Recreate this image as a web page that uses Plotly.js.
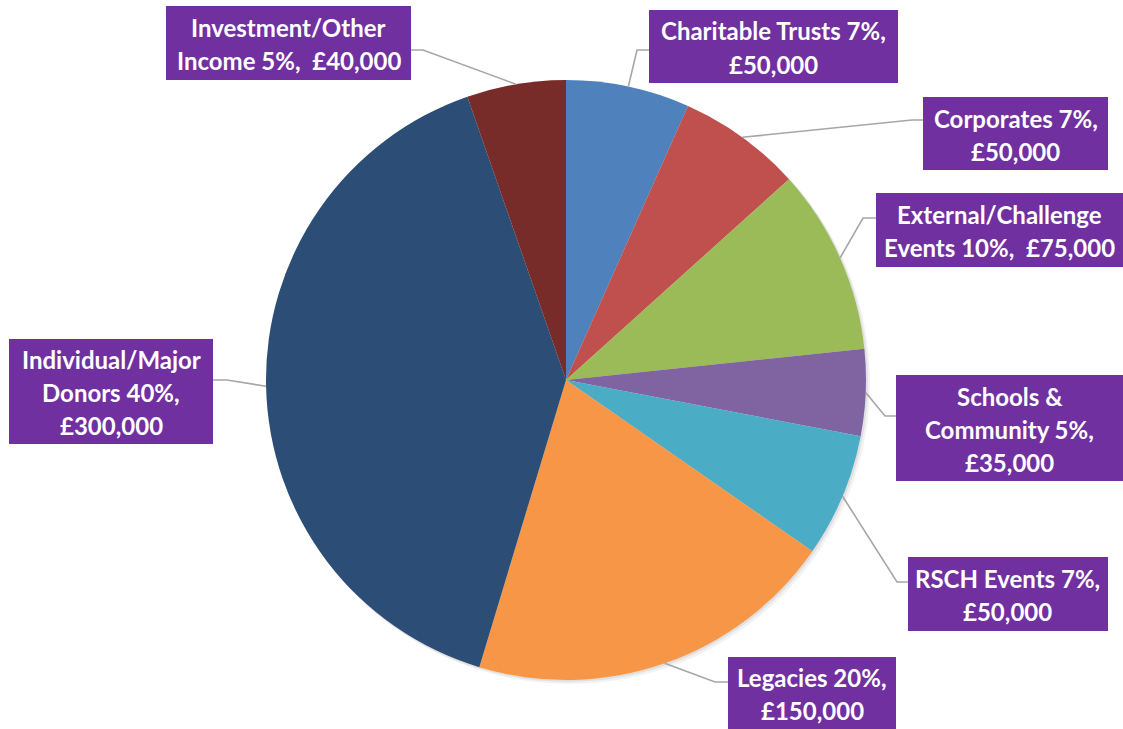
<!DOCTYPE html>
<html>
<head>
<meta charset="utf-8">
<script src="https://cdn.plot.ly/plotly-3.0.1.min.js"></script>
<style>html,body{margin:0;padding:0;background:#fff;}#chart{width:1123px;height:729px;}</style>
</head>
<body>
<div id="chart"></div>
<script>
// ---- data ----
const categories = ['Charitable Trusts', 'Corporates', 'External/Challenge Events', 'Schools & Community',
  'RSCH Events', 'Legacies', 'Individual/Major Donors', 'Investment/Other Income'];
const values = [50000, 50000, 75000, 35000, 50000, 150000, 300000, 40000];
const colors = ['#4F81BD', '#C0504D', '#9BBB59', '#8064A2', '#4BACC6', '#F79646', '#2C4D75', '#772C2A'];

// ---- layout (pixel positions of label boxes, wrapping) ----
const W = 1123, H = 729;
const cx = 566, cy = 380, R = 300;
// [left, top, right, bottom]
const boxes = [[649, 10, 898, 83], [923, 97, 1108, 170], [876, 193, 1123, 267], [896, 375, 1123, 481],
  [908, 557, 1108, 631], [728, 657, 896, 729], [9, 339, 213, 444], [166, 6, 411, 80]];
// [box edge x, elbow y, elbow x]
const leaders = [[649, 50, 637], [923, 120, 912], [876, 218, 863], [896, 416, 885],
  [908, 582, 897], [728, 682, 715], [213, 380, 227], [411, 50, 423]];
const wrapWords = [[3, 1], [2, 1], [1, 3], [2, 2, 1], [3, 1], [2, 1], [1, 2, 1], [1, 3]];
const lineGap = 33;

const px = x => x / W;
const py = y => 1 - y / H;
const total = values.reduce((a, b) => a + b, 0);
const money = v => '£' + v.toLocaleString('en-GB');

const shapes = [];
const annotations = [];

// soft shadow behind pie
[[4, 'rgba(0,0,0,0.05)'], [2, 'rgba(0,0,0,0.07)']].forEach(([o, c]) => {
  shapes.push({type: 'circle', xref: 'paper', yref: 'paper', layer: 'below',
    x0: px(cx - R + o - 1), x1: px(cx + R + o), y0: py(cy + R + o), y1: py(cy - R + o - 1),
    fillcolor: c, line: {width: 0}});
});

let cum = 0;
values.forEach((v, i) => {
  const mid = (cum + v / 2) / total * 2 * Math.PI;
  cum += v;
  const sx = cx + R * Math.sin(mid), sy = cy - R * Math.cos(mid);
  const [bx, ey, ex] = leaders[i];
  shapes.push({type: 'path', xref: 'paper', yref: 'paper', layer: 'above',
    path: `M ${px(bx)},${py(ey)} L ${px(ex)},${py(ey)} L ${px(sx)},${py(sy)}`,
    line: {color: '#A6A6A6', width: 1.6}});
  const [l, t, r, b] = boxes[i];
  shapes.push({type: 'rect', xref: 'paper', yref: 'paper', layer: 'above',
    x0: px(l), x1: px(r), y0: py(b), y1: py(t), fillcolor: '#7030A0', line: {width: 0}});
  // label text
  const pct = Math.round(v / total * 100);
  const words = (categories[i] + ' ' + pct + '%, ' + money(v)).split(' ');
  const lines = [];
  let k = 0;
  wrapWords[i].forEach(n => {
    let s = '';
    words.slice(k, k + n).forEach((w, j) => {
      if (j === 0) s = w; else s += (w.startsWith('£') ? '\u00a0 ' : ' ') + w;
    });
    lines.push(s);
    k += n;
  });
  const ccy = (t + b) / 2 + 1, ccx = (l + r) / 2;
  lines.forEach((s, j) => {
    annotations.push({xref: 'paper', yref: 'paper', x: px(ccx), y: py(ccy + (j - (lines.length - 1) / 2) * lineGap),
      xanchor: 'center', yanchor: 'middle', showarrow: false, text: s,
      font: {family: 'Lato, "Open Sans", sans-serif', size: 24, color: '#FFFFFF', weight: 'bold'}});
  });
});

const trace = {
  type: 'pie', labels: categories, values: values, sort: false, direction: 'clockwise', rotation: 0,
  marker: {colors: colors, line: {width: 0}}, textinfo: 'none', hoverinfo: 'label+value+percent',
  domain: {x: [px(cx - R), px(cx + R)], y: [py(cy + R), py(cy - R)]}, showlegend: false
};

const layout = {
  width: W, height: H, margin: {l: 0, r: 0, t: 0, b: 0},
  paper_bgcolor: '#FFFFFF', plot_bgcolor: '#FFFFFF', showlegend: false,
  shapes: shapes, annotations: annotations
};

Plotly.newPlot('chart', [trace], layout, {displayModeBar: false, staticPlot: true});
</script>
</body>
</html>
